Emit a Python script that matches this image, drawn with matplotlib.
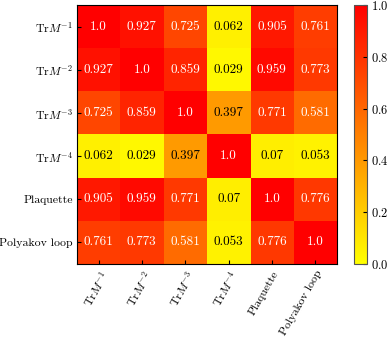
import matplotlib
matplotlib.use("Agg")
import matplotlib.pyplot as plt
import numpy as np

labels = [r"Tr$M^{-1}$", r"Tr$M^{-2}$", r"Tr$M^{-3}$", r"Tr$M^{-4}$", "Plaquette", "Polyakov loop"]
row1 = [1.0, 0.927, 0.725, 0.062, 0.905, 0.761]
row2 = [0.927, 1.0, 0.859, 0.029, 0.959, 0.773]
row3 = [0.725, 0.859, 1.0, 0.397, 0.771, 0.581]
row4 = [0.062, 0.029, 0.397, 1.0, 0.07, 0.053]
row5 = [0.905, 0.959, 0.771, 0.07, 1.0, 0.776]
row6 = [0.761, 0.773, 0.581, 0.053, 0.776, 1.0]
matrix = np.array([row1, row2, row3, row4, row5, row6])

plt.rcParams['font.family'] = ['cmr10']
plt.rcParams['mathtext.fontset'] = 'cm'
plt.rcParams['axes.unicode_minus'] = False
plt.rcParams['axes.formatter.use_mathtext'] = True

fig = plt.figure(figsize=(3.9, 3.37), dpi=100)
ax = fig.add_axes([0.197, 0.217, 0.667, 0.768])
cax = fig.add_axes([0.908, 0.217, 0.034, 0.768])

im = ax.imshow(matrix, cmap='autumn_r', vmin=0, vmax=1, aspect='auto')
n = len(labels)
ax.set_xticks(range(n))
ax.set_yticks(range(n))
ax.set_xticklabels(labels, rotation=60, ha='right', rotation_mode='anchor', fontsize=8.5)
ax.set_yticklabels(labels, fontsize=8.5)
ax.tick_params(direction='in', length=3)
ax.tick_params(axis='y', pad=3)
for i in range(n):
    for j in range(n):
        v = matrix[i, j]
        ax.text(j, i, str(v), ha='center', va='center', fontsize=9.5,
                color='white' if v > 0.5 else 'black')

cb = fig.colorbar(im, cax=cax)
cb.set_ticks([0.0, 0.2, 0.4, 0.6, 0.8, 1.0])
cb.ax.tick_params(direction='in', length=3, labelsize=9, pad=2.5)
cb.outline.set_edgecolor('#555555')

fig.savefig("out.png", dpi=100)
